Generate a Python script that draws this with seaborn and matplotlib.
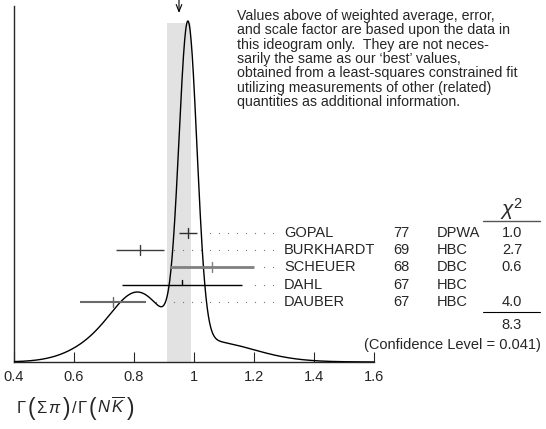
import numpy as np
import pandas as pd
import matplotlib
matplotlib.use("Agg")
import matplotlib.pyplot as plt
import seaborn as sns

# measurements shown in the ideogram
names = ["GOPAL", "BURKHARDT", "SCHEUER", "DAHL", "DAUBER"]
years = ["77", "69", "68", "67", "67"]
labs = ["DPWA", "HBC", "DBC", "HBC", "HBC"]
values = [0.98, 0.82, 1.06, 0.96, 0.73]
errors = [0.03, 0.08, 0.14, 0.20, 0.11]
chi2 = ["1.0", "2.7", "0.6", "", "4.0"]
chi2_total = "8.3"
conf_level = "0.041"
avg, avg_err = 0.95, 0.04
xticks = [0.4, 0.6, 0.8, 1.0, 1.2, 1.4, 1.6]
xticklabels = ["0.4", "0.6", "0.8", "1", "1.2", "1.4", "1.6"]

note = ("Values above of weighted average, error,\n"
        "and scale factor are based upon the data in\n"
        "this ideogram only.  They are not neces-\n"
        "sarily the same as our \u2018best\u2019 values,\n"
        "obtained from a least-squares constrained fit\n"
        "utilizing measurements of other (related)\n"
        "quantities as additional information.")

sns.set_style("ticks")
plt.rcParams["font.family"] = ["Liberation Sans", "DejaVu Sans"]
plt.rcParams["mathtext.fontset"] = "custom"
plt.rcParams["mathtext.rm"] = "Liberation Sans"
plt.rcParams["mathtext.it"] = "Liberation Sans:italic"

# ideogram: each measurement a gaussian of area 1/sigma
xs = np.linspace(0.4, 1.6, 1201)
ys = np.zeros_like(xs)
for v, e in zip(values, errors):
    ys += np.exp(-0.5 * ((xs - v) / e) ** 2) / e ** 2
ys /= ys.max()
curve = pd.DataFrame({"x": xs, "y": ys})

fig = plt.figure(figsize=(5.46, 4.29), dpi=100)
PX = 341.0  # pixels per unit height
ax = fig.add_axes([14 / 546, 67 / 429, 360 / 546, 362 / 429])
ax.set_xlim(0.4, 1.6)
ax.set_ylim(0, 362 / PX)


def ypx(p):
    return (362 - p) / PX


def xpx(p):
    return 0.4 + (p - 14) / 300


ax.fill_between([avg - avg_err, avg + avg_err], 0, ypx(23), color="#e2e2e2",
                lw=0, zorder=0)
sns.lineplot(data=curve, x="x", y="y", color="black", lw=1.0, ax=ax, zorder=3)

bar_colors = ["#303030", "#3c3c3c", "#808080", "#000000", "#6a6a6a"]
bar_widths = [1.0, 1.0, 2.0, 1.0, 1.5]
dot_grid = np.arange(1.265, 0.4, -0.03)
for i, (n, v, e) in enumerate(zip(names, values, errors)):
    yy = ypx(233 + 17.2 * i)
    ax.plot([v - e, v + e], [yy, yy], color=bar_colors[i], lw=bar_widths[i],
            zorder=4, solid_capstyle="butt")
    up = 5 / PX
    lo = yy if n == "DAHL" else yy - up
    ax.plot([v, v], [lo, yy + up], color=bar_colors[i], lw=1.0, zorder=4)
    d = dot_grid[dot_grid > v + e + 0.03]
    ax.scatter(d, np.full_like(d, yy), s=0.8, color="#777777", zorder=2,
               linewidths=0)
    ax.text(xpx(284), yy, n, fontsize=10.5, va="center", ha="left")
    ax.text(xpx(393), yy, years[i], fontsize=10.5, va="center", ha="left",
            clip_on=False)
    ax.text(xpx(437), yy, labs[i], fontsize=10.5, va="center", ha="left",
            clip_on=False)
    ax.text(xpx(512), yy, chi2[i], fontsize=10.5, va="center", ha="center",
            clip_on=False)

ax.text(xpx(512), ypx(209), r"$\chi^2$", fontsize=15, ha="center",
        va="center", clip_on=False)
ax.plot([xpx(483), xpx(540)], [ypx(221)] * 2, color="#555555", lw=1.0,
        clip_on=False)
ax.plot([xpx(483), xpx(540)], [ypx(312)] * 2, color="black", lw=0.8,
        clip_on=False)
ax.text(xpx(512), ypx(325), chi2_total, fontsize=10.5, ha="center",
        va="center", clip_on=False)
ax.text(xpx(541), ypx(345), f"(Confidence Level = {conf_level})",
        fontsize=10.5, ha="right", va="center", clip_on=False)

ax.text(xpx(237), ypx(9), note, fontsize=10.2, ha="left", va="top",
        linespacing=1.03, clip_on=False)

ax.annotate("", xy=(avg, ypx(13)), xytext=(avg, ypx(-2)),
            arrowprops=dict(arrowstyle="->,head_length=0.5,head_width=0.2",
                            color="black", lw=0.8, shrinkA=0, shrinkB=0),
            annotation_clip=False)

sns.despine(ax=ax)
ax.spines["left"].set_bounds(0, ypx(6))
ax.spines["left"].set_linewidth(1.0)
ax.spines["bottom"].set_linewidth(1.0)
ax.set_yticks([])
ax.set_xticks(xticks)
ax.set_xticklabels(xticklabels, fontsize=10.5)
ax.tick_params(axis="x", direction="in", length=7, width=0.8, pad=6)
ax.set_xlabel("")
ax.set_ylabel("")

# x-axis quantity, pieced together so both bracket pairs are equally tall
# (text, font size, baseline in px from top, gap after)
label_parts = [
    (r"$\Gamma$", 12, 413, 1),
    ("(", 16.5, 415, 1),
    (r"$\Sigma\,\pi$", 12, 413, 1),
    (")", 16.5, 415, 0),
    (r"$/$", 12, 413, 0),
    (r"$\Gamma$", 12, 413, 1),
    ("(", 16.5, 415, 1),
    (r"$N\,\overline{K}$", 12, 413, 1),
    (")", 16.5, 415, 0),
]
renderer = fig.canvas.get_renderer()
xcur = 16.0
for s, fs, base, gap in label_parts:
    t = fig.text(xcur / 546, 1 - base / 429, s, fontsize=fs, ha="left",
                 va="baseline", fontweight="light")
    xcur += t.get_window_extent(renderer).width + gap

fig.savefig("out.png", dpi=100)
